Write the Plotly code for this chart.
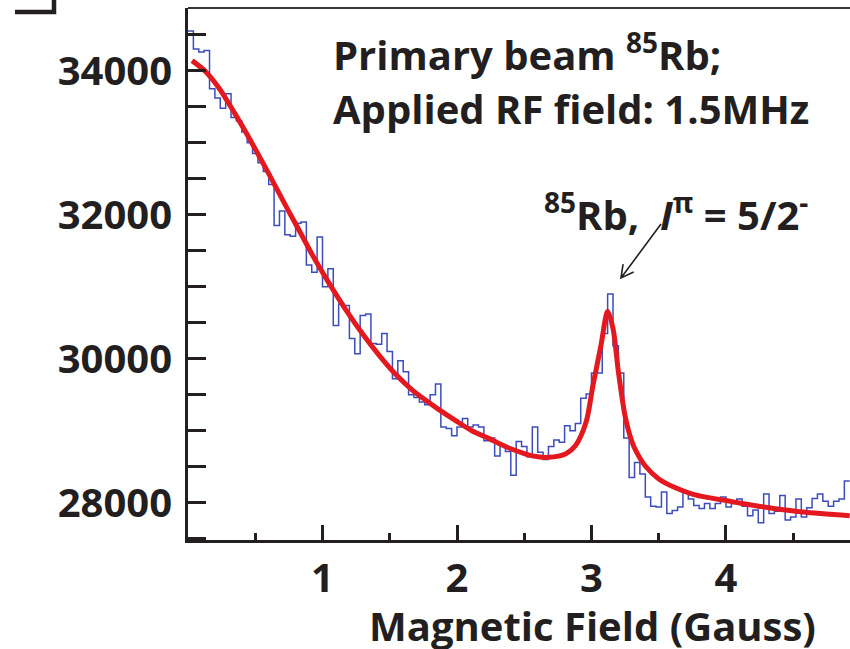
import math
import plotly.graph_objects as go

# Histogram of counts vs. magnetic field, fixed-width bins starting at 0 G
bin_width = 0.04
counts = [
    34550, 34300, 34260, 34280, 33750, 33620, 33480, 33680, 33350, 33300,
    33150, 33000, 32850, 32720, 32600, 32420, 31850, 32050, 31720, 31700,
    31880, 31900, 31300, 31200, 31690, 31000, 31250, 30460, 30760, 30740,
    30280, 30070, 30600, 30620, 30210, 30200, 30350, 30100, 29720, 29970,
    29820, 29500, 29460, 29400, 29360, 29500, 29650, 29050, 29030, 28930,
    29050, 29170, 29050, 29080, 29050, 28860, 28900, 28650, 28810, 28710,
    28380, 28850, 28780, 28640, 29050, 28700, 28600, 28780, 28870, 28840,
    29070, 29000, 29100, 29450, 29510, 29800, 29800, 30350, 30900, 30180,
    29800, 28900, 28350, 28560, 28400, 28080, 27950, 27940, 28150, 27850,
    27890, 27940, 28140, 28050, 27960, 27920, 27990, 27920, 27990, 28080,
    27940, 27990, 28050, 27950, 27820, 27900, 27720, 28120, 27850, 27880,
    28100, 27760, 27800, 28050, 27800, 27930, 28060, 28120, 28020, 27950,
    28020, 28050, 28300,
]

# Fitted curve (background + resonance), sampled along the field axis
fit_field = [
    0.03, 0.13, 0.23, 0.35, 0.48, 0.60, 0.725, 0.85, 0.925, 1.045,
    1.17, 1.30, 1.42, 1.54, 1.67, 1.74, 1.86, 1.99, 2.11, 2.24,
    2.36, 2.49, 2.56, 2.68, 2.81, 2.88, 2.96, 3.01, 3.07, 3.12,
    3.16, 3.20, 3.25, 3.30, 3.33, 3.40, 3.50, 3.62, 3.75, 3.87,
    4.00, 4.12, 4.32, 4.57, 4.92,
]
fit_counts = [
    34140, 33990, 33760, 33400, 32980, 32570, 32130, 31700, 31440, 31060,
    30690, 30340, 30050, 29790, 29560, 29460, 29300, 29140, 29000, 28890,
    28780, 28690, 28650, 28630, 28680, 28790, 29120, 29620, 30180, 30660,
    30420, 29820, 29200, 28850, 28720, 28510, 28330, 28210, 28120, 28070,
    28030, 27990, 27930, 27870, 27820,
]

x_tick_vals = [1, 2, 3, 4]
x_tick_text = ["1", "2", "3", "4"]
y_tick_vals = [28000, 30000, 32000, 34000]
y_tick_text = ["28000", "30000", "32000", "34000"]

x_range = [0, 4.922]
y_range = [27482, 34871]

INK = "#231f20"
FONT = "Open Sans"
FSIZE = 40

W, H = 850, 649
M_L, M_R, M_T, M_B = 188, 0, 8, 109
PW, PH = W - M_L - M_R, H - M_T - M_B

edges = [i * bin_width for i in range(len(counts) + 1)]

fig = go.Figure()
fig.add_trace(go.Scatter(
    x=edges, y=counts + [counts[-1]],
    mode="lines", line=dict(color="#3c4dbb", width=1.5, shape="hv"),
    hoverinfo="skip",
))
fig.add_trace(go.Scatter(
    x=fit_field, y=fit_counts,
    mode="lines", line=dict(color="#e3191f", width=5, shape="spline", smoothing=0.8),
    hoverinfo="skip",
))

bold = dict(family=FONT, size=FSIZE, color=INK, weight="bold")

fig.update_xaxes(
    range=x_range, showgrid=False, zeroline=False,
    showline=True, linecolor=INK, linewidth=3,
    ticks="inside", ticklen=15, tickwidth=2.5, tickcolor=INK,
    tickvals=x_tick_vals, ticktext=x_tick_text, tickfont=bold,
    ticklabelstandoff=1,
    minor=dict(dtick=0.5, tick0=0, ticks="inside", ticklen=7, tickwidth=2.5, tickcolor=INK),
)
fig.update_yaxes(
    range=y_range, showgrid=False, zeroline=False,
    showline=True, linecolor=INK, linewidth=3,
    ticks="inside", ticklen=18, tickwidth=2.5, tickcolor=INK,
    tickvals=y_tick_vals, ticktext=y_tick_text, tickfont=bold,
    ticklabelstandoff=5,
    minor=dict(dtick=500, tick0=0, ticks="inside", ticklen=18, tickwidth=2.5, tickcolor=INK),
)


def px_x(px):
    return (px - M_L) / PW


def px_y(py):
    return (H - M_B - py) / PH


annotations = [
    dict(text="Primary beam <sup>85</sup>Rb;", x=px_x(331), y=px_y(52),
         xanchor="left", yanchor="middle"),
    dict(text="Applied RF field: 1.5MHz", x=px_x(331), y=px_y(108),
         xanchor="left", yanchor="middle"),
    dict(text="<sup>85</sup>Rb,\u00a0\u00a0<i>I</i><sup>\u03c0</sup> = 5/2<sup>-</sup>",
         x=px_x(542), y=px_y(212), xanchor="left", yanchor="middle"),
    dict(text="Magnetic Field (Gauss)", x=px_x(592), y=px_y(625),
         xanchor="center", yanchor="middle"),
]
for a in annotations:
    fig.add_annotation(xref="paper", yref="paper", showarrow=False, font=bold, **a)

# Pointer arrow to the resonance: open "V" head drawn as a path in paper space
tail = (661, 224)
head = (621, 278)
dx, dy = head[0] - tail[0], head[1] - tail[1]
L = math.hypot(dx, dy)
ux, uy = dx / L, dy / L
barb = 14
ang = math.radians(28)
pts = []
for s in (1, -1):
    c, sn = math.cos(s * ang), math.sin(s * ang)
    bx = -(ux * c - uy * sn) * barb
    by = -(ux * sn + uy * c) * barb
    pts.append((head[0] + bx, head[1] + by))
path = (
    f"M {px_x(tail[0])},{px_y(tail[1])} L {px_x(head[0])},{px_y(head[1])} "
    f"M {px_x(pts[0][0])},{px_y(pts[0][1])} L {px_x(head[0])},{px_y(head[1])} "
    f"L {px_x(pts[1][0])},{px_y(pts[1][1])}"
)
fig.add_shape(type="path", xref="paper", yref="paper", path=path,
              line=dict(color=INK, width=1.6))

# Top frame line
fig.add_shape(type="line", xref="paper", yref="paper", x0=0, x1=1, y0=1, y1=1,
              line=dict(color="#3b3838", width=2))

# Corner bracket of the neighbouring panel
fig.add_shape(type="path", xref="paper", yref="paper",
              path=f"M {px_x(15)},{px_y(12)} L {px_x(54)},{px_y(12)} L {px_x(54)},{px_y(-5)}",
              line=dict(color=INK, width=4.5))

fig.update_layout(
    width=W, height=H,
    margin=dict(l=M_L, r=M_R, t=M_T, b=M_B),
    plot_bgcolor="white", paper_bgcolor="white",
    showlegend=False,
)

fig.write_html("out.html")
